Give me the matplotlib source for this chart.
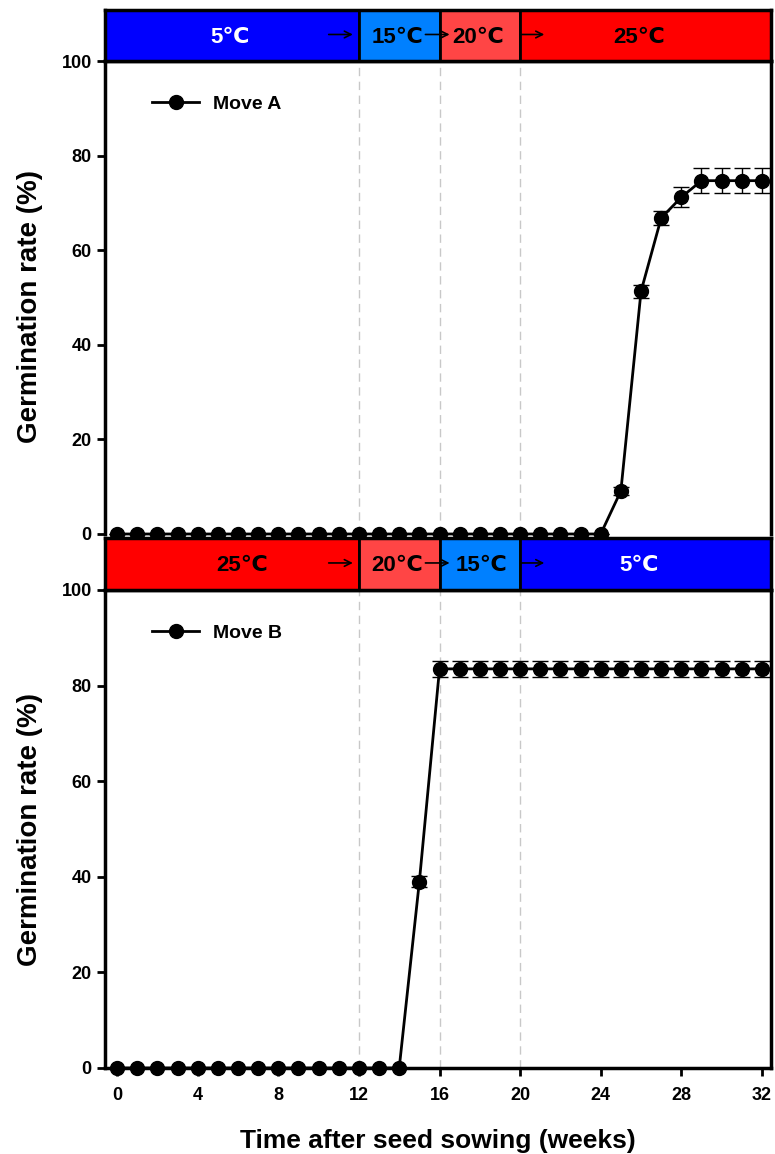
import matplotlib
matplotlib.use("Agg")
import matplotlib.pyplot as plt
from matplotlib.lines import Line2D
from matplotlib.patches import Rectangle

# ---- data ----
weeks = list(range(0, 33))
move_a = [0] * 25 + [9.1, 51.3, 66.8, 71.2, 74.7, 74.7, 74.7, 74.7]
move_a_err = [0] * 25 + [0.9, 1.3, 1.5, 2.1, 2.7, 2.7, 2.7, 2.7]
move_b = [0] * 15 + [39.0] + [83.5] * 17
move_b_err = [0] * 15 + [1.2] + [1.7] * 17

# temperature regimes
regime_edges = [-0.6, 12, 16, 20, 32.45]
regime_a = ["5\u2103", "15\u2103", "20\u2103", "25\u2103"]
regime_b = ["25\u2103", "20\u2103", "15\u2103", "5\u2103"]
label_x_a = [5.6, 13.9, 17.9, 25.9]
label_x_b = [6.2, 13.9, 18.1, 25.9]
temp_colors = {"5": "#0000ff", "15": "#0080ff", "20": "#ff4545", "25": "#ff0000"}
text_colors = {"5": "white", "15": "black", "20": "black", "25": "black"}
arrows = [(10.5, 11.7), (15.3, 16.5), (20.0, 21.2)]

FONT = ["Liberation Sans", "DejaVu Sans"]
plt.rcParams["font.family"] = FONT

W, H = 775, 1154
fig = plt.figure(figsize=(W / 100, H / 100), dpi=100)
left, right = 105, 771


def box(x0, y_top, y_bot):
    return [x0 / W, (H - y_bot) / H, (right - x0) / W, (y_bot - y_top) / H]


def draw_band(ax, labels, label_x):
    ax.set_xlim(regime_edges[0], regime_edges[-1])
    ax.set_ylim(0, 1)
    for i, lab in enumerate(labels):
        key = lab.replace("\u2103", "")
        ax.add_patch(Rectangle((regime_edges[i], 0), regime_edges[i + 1] - regime_edges[i], 1,
                               facecolor=temp_colors[key], edgecolor="black", lw=2))
        ax.text(label_x[i], 0.47, lab, ha="center", va="center", fontsize=16,
                fontweight="bold", color=text_colors[key])
    for x0, x1 in arrows:
        ax.annotate("", xy=(x1, 0.52), xytext=(x0, 0.52),
                    arrowprops=dict(arrowstyle="->", lw=1.2, color="black",
                                    mutation_scale=12, shrinkA=0, shrinkB=0))
    ax.set_xticks([])
    ax.set_yticks([])
    for s in ax.spines.values():
        s.set_linewidth(2.5)


def draw_panel(ax, y, err, label, label_y):
    ax.set_xlim(regime_edges[0], regime_edges[-1])
    ax.set_ylim(0, 100)
    for xv in [12, 16, 20]:
        ax.axvline(xv, color="#c8c8c8", ls=(0, (6, 4)), lw=1, zorder=0)
    ax.errorbar(weeks, y, yerr=err, color="black", lw=2, marker="o", ms=10,
                ecolor="black", elinewidth=1, capsize=6, capthick=1,
                clip_on=False, zorder=3)
    ax.set_yticks([0, 20, 40, 60, 80, 100])
    ax.tick_params(axis="y", direction="out", length=6, width=2, labelsize=13)
    for t in ax.get_yticklabels():
        t.set_fontweight("bold")
    ax.set_ylabel("Germination rate (%)", fontsize=20, fontweight="bold")
    ax.yaxis.set_label_coords(-0.093, label_y)
    for s in ["left", "right", "top", "bottom"]:
        ax.spines[s].set_linewidth(2.5)
    handle = Line2D([], [], color="black", lw=2, marker="o", ms=10)
    ax.legend([handle], [label], loc="upper left", bbox_to_anchor=(0.045, 0.965),
              frameon=False, handlelength=2.4, handletextpad=0.7,
              prop={"weight": "bold", "size": 14})


# top panel
ax_a = fig.add_axes(box(left, 61, 534))
draw_panel(ax_a, move_a, move_a_err, "Move A", 0.48)
ax_a.spines["bottom"].set_visible(False)
ax_a.set_xticks([])
band_a = fig.add_axes(box(left, 10, 61))
draw_band(band_a, regime_a, label_x_a)

# bottom panel
ax_b = fig.add_axes(box(left, 590, 1068))
draw_panel(ax_b, move_b, move_b_err, "Move B", 0.5)
ax_b.set_xticks(range(0, 33, 4))
ax_b.tick_params(axis="x", direction="out", length=6, width=2, labelsize=13, pad=8)
for t in ax_b.get_xticklabels():
    t.set_fontweight("bold")
ax_b.set_xlabel("Time after seed sowing (weeks)", fontsize=19, fontweight="bold", labelpad=18)
band_b = fig.add_axes(box(left, 538, 590))
draw_band(band_b, regime_b, label_x_b)

fig.savefig("out.png", dpi=100)
